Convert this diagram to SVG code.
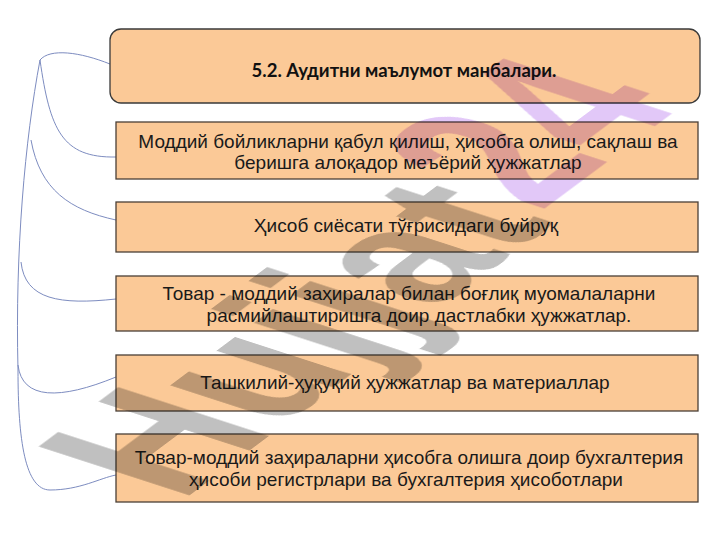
<svg xmlns="http://www.w3.org/2000/svg" width="720" height="540" viewBox="0 0 720 540">
<style>
.box{fill:#FBC997;stroke:#4a3f36;stroke-width:1.3}
.title{fill:#FBC997;stroke:#3a3a3a;stroke-width:1.3}
.t{font-family:"Liberation Sans",Arial,sans-serif;font-size:19px;fill:#1a1a1a;text-anchor:middle}
.tt{font-family:Lato,Carlito,"Liberation Sans",sans-serif;font-size:18.5px;font-weight:bold;fill:#111;text-anchor:middle}
.c{fill:none;stroke:#7d8cc0;stroke-width:1}
.wm{font-family:"Liberation Sans",Arial,sans-serif;font-weight:bold;font-size:100px}
</style>
<rect width="720" height="540" fill="#ffffff"/>
<g id="connectors">
<path class="c" d="M40,60 C50,48 80,52 110,64"/>
<path class="c" d="M40,60 C50,130 62,158 116,157"/>
<path class="c" d="M40,60 C25,140 15,250 18,370 C18,440 25,490 50,490 C80,490 100,478 116,475"/>
<path class="c" d="M31,140 C40,190 70,210 116,220"/>
<path class="c" d="M21,262 C25,300 60,305 116,299"/>
<path class="c" d="M18,365 C22,400 60,400 116,377"/>
</g>
<g id="n0"><rect class="title" x="110" y="29" width="590" height="74" rx="11"/><text class="tt" x="404" y="77">5.2. Аудитни маълумот манбалари.</text></g>
<g id="n1"><rect class="box" x="116" y="122" width="582" height="57"/><text class="t" x="408" y="148">Моддий бойликларни қабул қилиш, ҳисобга олиш, сақлаш ва</text><text class="t" x="408" y="169">беришга алоқадор меъёрий ҳужжатлар</text></g>
<g id="n2"><rect class="box" x="116" y="202" width="582" height="50"/><text class="t" x="406" y="232">Ҳисоб сиёсати тўғрисидаги буйруқ</text></g>
<g id="n3"><rect class="box" x="116" y="276" width="582" height="55"/><text class="t" x="409" y="300">Товар - моддий заҳиралар билан боғлиқ муомалаларни</text><text class="t" x="419" y="322">расмийлаштиришга доир дастлабки ҳужжатлар.</text></g>
<g id="n4"><rect class="box" x="116" y="355" width="582" height="56"/><text class="t" x="405" y="389">Ташкилий-ҳуқуқий ҳужжатлар ва материаллар</text></g>
<g id="n5"><rect class="box" x="116" y="434" width="582" height="68"/><text class="t" x="409" y="464">Товар-моддий заҳираларни ҳисобга олишга доир бухгалтерия</text><text class="t" x="406" y="486">ҳисоби регистрлари ва бухгалтерия ҳисоботлари</text></g>
<g id="watermark" style="mix-blend-mode:multiply">
<text class="wm" fill="#c0c0c0" transform="matrix(1.35,-1.01,2.19,0.71,180,502)">Hujjat</text>
<text class="wm" fill="#e2c8f8" transform="matrix(1.3,-0.97,2.45,0.8,540,212)">24</text>
</g>
</svg>
